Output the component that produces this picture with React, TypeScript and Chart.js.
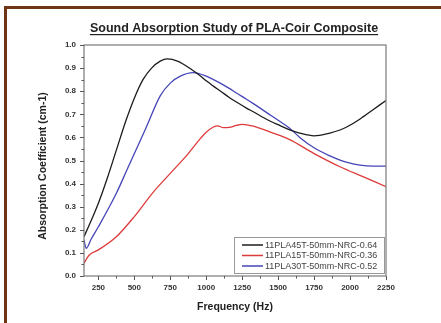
import React, { useEffect, useRef } from "react";
import { Chart, registerables } from "chart.js";

Chart.register(...registerables);

const TITLE = "Sound Absorption Study of PLA-Coir Composite";
const X_TITLE = "Frequency (Hz)";
const Y_TITLE = "Absorption Coefficient (cm-1)";

const SERIES_LABELS = [
  "11PLA45T-50mm-NRC-0.64",
  "11PLA15T-50mm-NRC-0.36",
  "11PLA30T-50mm-NRC-0.52",
];
const SERIES_COLORS = ["#1c1c1c", "#dd3b3b", "#4545b8"];

const FREQ_45T = [150, 200, 250, 310, 375, 440, 500, 560, 620, 680, 730, 800, 900, 960, 1000, 1050, 1100, 1160, 1210, 1280, 1330, 1400, 1450, 1500, 1580, 1650, 1750, 1860, 1930, 1980, 2070, 2160, 2250];
const ABS_45T = [0.17, 0.24, 0.315, 0.42, 0.545, 0.67, 0.77, 0.85, 0.9, 0.93, 0.94, 0.93, 0.893, 0.866, 0.845, 0.822, 0.8, 0.773, 0.753, 0.727, 0.71, 0.685, 0.669, 0.655, 0.633, 0.619, 0.607, 0.619, 0.632, 0.646, 0.68, 0.72, 0.76];

const FREQ_15T = [150, 185, 250, 375, 500, 625, 750, 875, 950, 1000, 1050, 1080, 1120, 1160, 1210, 1250, 1300, 1350, 1450, 1580, 1750, 1930, 2090, 2250];
const ABS_15T = [0.055, 0.09, 0.113, 0.17, 0.257, 0.358, 0.444, 0.53, 0.588, 0.622, 0.645, 0.65, 0.642, 0.643, 0.652, 0.656, 0.652, 0.645, 0.622, 0.59, 0.53, 0.473, 0.43, 0.387];

const FREQ_30T = [150, 165, 200, 250, 375, 456, 500, 580, 680, 750, 820, 910, 1000, 1050, 1100, 1160, 1210, 1280, 1330, 1400, 1450, 1500, 1580, 1650, 1750, 1860, 1930, 1980, 2070, 2160, 2250];
const ABS_30T = [0.155, 0.12, 0.16, 0.213, 0.358, 0.47, 0.53, 0.64, 0.78, 0.835, 0.865, 0.88, 0.865, 0.85, 0.834, 0.812, 0.792, 0.765, 0.745, 0.716, 0.695, 0.674, 0.64, 0.6, 0.555, 0.52, 0.502, 0.492, 0.48, 0.476, 0.476];

const X_TICKS = [250, 500, 750, 1000, 1250, 1500, 1750, 2000, 2250];
const X_MINOR = [375, 625, 875, 1125, 1375, 1625, 1875, 2125];
const Y_TICKS = [0, 0.1, 0.2, 0.3, 0.4, 0.5, 0.6, 0.7, 0.8, 0.9, 1.0];
const Y_MINOR = [0.05, 0.15, 0.25, 0.35, 0.45, 0.55, 0.65, 0.75, 0.85, 0.95];

const toPoints = (xs: number[], ys: number[]) => xs.map((x, i) => ({ x, y: ys[i] }));

const decorPlugin = {
  id: "decor",
  afterDraw(chart: any) {
    const ctx = chart.ctx as CanvasRenderingContext2D;
    const a = chart.chartArea;
    const xs = chart.scales.x;
    const ys = chart.scales.y;
    ctx.save();
    // outer brown frame
    ctx.fillStyle = "#6e3416";
    ctx.fillRect(4, 6, 3, 317);
    ctx.fillRect(4, 6, 437, 3);
    // plot box
    ctx.strokeStyle = "#7a7a7a";
    ctx.lineWidth = 1.2;
    ctx.strokeRect(a.left, a.top, a.right - a.left, a.bottom - a.top);
    // ticks
    ctx.strokeStyle = "#555";
    ctx.lineWidth = 1;
    ctx.beginPath();
    X_TICKS.forEach((v) => {
      const px = Math.round(xs.getPixelForValue(v)) + 0.5;
      ctx.moveTo(px, a.bottom);
      ctx.lineTo(px, a.bottom + 4);
    });
    X_MINOR.forEach((v) => {
      const px = Math.round(xs.getPixelForValue(v)) + 0.5;
      ctx.moveTo(px, a.bottom);
      ctx.lineTo(px, a.bottom + 2.5);
    });
    Y_TICKS.forEach((v) => {
      const py = Math.round(ys.getPixelForValue(v)) + 0.5;
      ctx.moveTo(a.left, py);
      ctx.lineTo(a.left - 4, py);
    });
    Y_MINOR.forEach((v) => {
      const py = Math.round(ys.getPixelForValue(v)) + 0.5;
      ctx.moveTo(a.left, py);
      ctx.lineTo(a.left - 2.5, py);
    });
    ctx.stroke();

    // title with underline
    ctx.fillStyle = "#222";
    ctx.font = "bold 12.5px Arial, 'Liberation Sans', sans-serif";
    ctx.textAlign = "center";
    ctx.textBaseline = "alphabetic";
    const tx = 234;
    ctx.fillText(TITLE, tx, 32);
    const tw = ctx.measureText(TITLE).width;
    ctx.fillRect(tx - tw / 2, 34, tw, 1.2);

    // axis titles
    ctx.font = "bold 10.5px Arial, 'Liberation Sans', sans-serif";
    ctx.textBaseline = "middle";
    ctx.fillText(X_TITLE, 235, 307);
    ctx.save();
    ctx.translate(43, 166);
    ctx.rotate(-Math.PI / 2);
    ctx.fillText(Y_TITLE, 0, 0);
    ctx.restore();

    // legend
    const lx = 234, ly = 237, lw = 150, lh = 36;
    ctx.fillStyle = "#fff";
    ctx.fillRect(lx, ly, lw, lh);
    ctx.strokeStyle = "#999";
    ctx.lineWidth = 1;
    ctx.strokeRect(lx + 0.5, ly + 0.5, lw, lh);
    ctx.font = "9px Arial, 'Liberation Sans', sans-serif";
    ctx.textAlign = "left";
    ctx.textBaseline = "middle";
    SERIES_LABELS.forEach((lab, i) => {
      const y = ly + 8 + i * 10.5;
      ctx.strokeStyle = SERIES_COLORS[i];
      ctx.lineWidth = 1.5;
      ctx.beginPath();
      ctx.moveTo(242, y);
      ctx.lineTo(263, y);
      ctx.stroke();
      ctx.fillStyle = "#444";
      ctx.fillText(lab, 265, y + 0.5);
    });
    ctx.restore();
  },
};

export default function App() {
  const ref = useRef<HTMLCanvasElement>(null);
  useEffect(() => {
    if (!ref.current) return;
    const tickFont = { family: "Arial, 'Liberation Sans', sans-serif", size: 8, weight: "bold" as const };
    const mk = (i: number, xs: number[], ys: number[]) => ({
      label: SERIES_LABELS[i],
      data: toPoints(xs, ys),
      borderColor: SERIES_COLORS[i],
      backgroundColor: SERIES_COLORS[i],
      borderWidth: 1.3,
      pointRadius: 0,
      cubicInterpolationMode: "monotone" as const,
      fill: false,
    });
    const chart = new Chart(ref.current, {
      type: "line",
      data: {
        datasets: [mk(0, FREQ_45T, ABS_45T), mk(1, FREQ_15T, ABS_15T), mk(2, FREQ_30T, ABS_30T)],
      },
      options: {
        responsive: false,
        animation: false,
        layout: { padding: { top: 45, right: 55, left: 0, bottom: 0 } },
        plugins: { legend: { display: false }, tooltip: { enabled: false }, title: { display: false } },
        scales: {
          x: {
            type: "linear",
            min: 150,
            max: 2250,
            afterBuildTicks: (s: any) => {
              s.ticks = X_TICKS.map((v) => ({ value: v }));
            },
            afterFit: (s: any) => {
              s.height = 47;
            },
            grid: { display: false, drawTicks: false },
            border: { display: false },
            ticks: {
              font: tickFont,
              color: "#333",
              padding: 7,
              maxRotation: 0,
              autoSkip: false,
              callback: (v: any) => String(v),
            },
          },
          y: {
            min: 0,
            max: 1,
            afterBuildTicks: (s: any) => {
              s.ticks = Y_TICKS.map((v) => ({ value: v }));
            },
            afterFit: (s: any) => {
              s.width = 84;
            },
            grid: { display: false, drawTicks: false },
            border: { display: false },
            ticks: {
              font: tickFont,
              color: "#333",
              padding: 8,
              autoSkip: false,
              callback: (v: any) => Number(v).toFixed(1),
            },
          },
        },
      },
      plugins: [decorPlugin],
    });
    return () => chart.destroy();
  }, []);
  return (
    <div style={{ position: "fixed", left: 0, top: 0, width: 441, height: 323, background: "#fff" }}>
      <canvas ref={ref} width={441} height={323} style={{ display: "block" }} />
    </div>
  );
}
